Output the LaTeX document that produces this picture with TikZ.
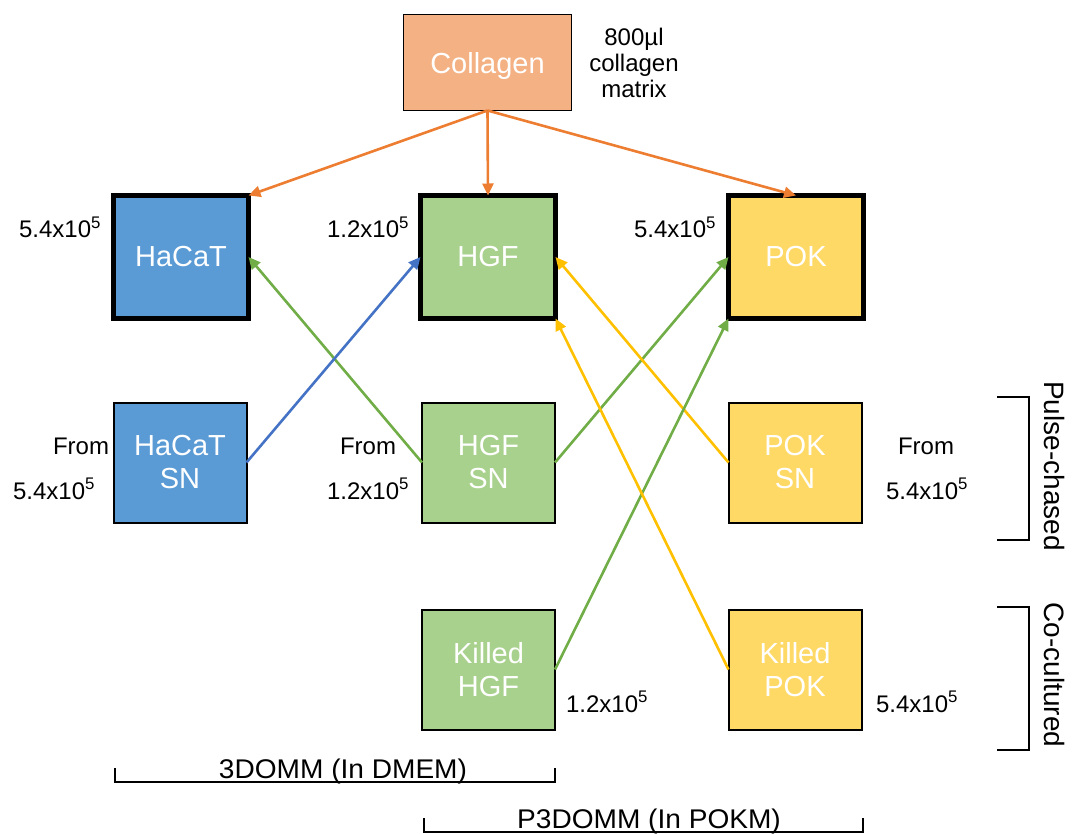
\documentclass[tikz,border=0pt]{standalone}
\usepackage{fontspec}
\setmainfont{Liberation Sans}
\usetikzlibrary{arrows.meta}
\definecolor{cOrangeFill}{HTML}{F4B183}
\definecolor{cBlue}{HTML}{5B9BD5}
\definecolor{cGreen}{HTML}{A9D18E}
\definecolor{cYellow}{HTML}{FFD966}
\definecolor{aOrange}{HTML}{ED7D31}
\definecolor{aBlue}{HTML}{4472C4}
\definecolor{aGreen}{HTML}{70AD47}
\definecolor{aYellow}{HTML}{FFC000}
\begin{document}
\begin{tikzpicture}[x=1pt,y=-1pt,
  box/.style={draw=black, line width=2pt, minimum width=133pt, minimum height=120pt,
    inner sep=0pt, outer sep=0pt, text=white, align=center,
    font=\fontsize{29}{33}\selectfont},
  thickbox/.style={box, line width=5pt, minimum width=135pt, minimum height=123pt},
  lab/.style={font=\fontsize{24}{26}\selectfont, inner sep=0pt, anchor=base},
  side/.style={font=\fontsize{28}{30}\selectfont, inner sep=0pt, rotate=-90},
  bottomlab/.style={font=\fontsize{27}{30}\selectfont, inner sep=0pt, anchor=base},
  conn/.style={line width=2.6pt, -{Triangle[length=12pt,width=11pt]}},
  bracket/.style={line width=1.5pt, black},
]
\useasboundingbox (0,0) rectangle (1074,834);

% boxes
\node[box, fill=cOrangeFill, line width=1.5pt, minimum width=168pt, minimum height=96pt, text depth=0pt] (col) at (487.5,62.5) {Collagen};
\node[thickbox, fill=cBlue] (hacat) at (181,257) {HaCaT};
\node[thickbox, fill=cGreen] (hgf) at (488,257) {HGF};
\node[thickbox, fill=cYellow] (pok) at (796,257) {POK};
\node[box, fill=cBlue] (hacatsn) at (180,462.5) {HaCaT\\SN};
\node[box, fill=cGreen] (hgfsn) at (488.5,462.5) {HGF\\SN};
\node[box, fill=cYellow] (poksn) at (795,462.5) {POK\\SN};
\node[box, fill=cGreen] (khgf) at (488.5,669.5) {Killed\\HGF};
\node[box, fill=cYellow] (kpok) at (795,669.5) {Killed\\POK};

% labels
\node[lab] (vol) at (634,46) {800µl};
\node[lab] (vol2) at (634,72) {collagen};
\node[lab] (vol3) at (634,98) {matrix};
\node[lab] (n1) at (60,238) {5.4x10\textsuperscript{5}};
\node[lab] (n2) at (368,238) {1.2x10\textsuperscript{5}};
\node[lab] (n3) at (675,238) {5.4x10\textsuperscript{5}};
\node[lab] (f1) at (81,454) {From};
\node[lab] (f1n) at (54,499) {5.4x10\textsuperscript{5}};
\node[lab] (f2) at (368,454) {From};
\node[lab] (f2n) at (368,499) {1.2x10\textsuperscript{5}};
\node[lab] (f3) at (926,454) {From};
\node[lab] (f3n) at (927,499) {5.4x10\textsuperscript{5}};
\node[lab] (k1) at (607,712) {1.2x10\textsuperscript{5}};
\node[lab] (k2) at (917,712) {5.4x10\textsuperscript{5}};

% arrows
\draw[conn, aOrange] (col.south) -- (hacat.north east);
\draw[conn, aOrange] (col.south) -- (hgf.north);
\draw[conn, aOrange] (col.south) -- (pok.north);
\draw[conn, aGreen] (hgfsn.west) -- (hacat.east);
\draw[conn, aBlue] (hacatsn.east) -- (hgf.west);
\draw[conn, aGreen] (hgfsn.east) -- (pok.west);
\draw[conn, aYellow] (poksn.west) -- (hgf.east);
\draw[conn, aGreen] (khgf.east) -- (pok.south west);
\draw[conn, aYellow] (kpok.west) -- (hgf.south east);

% right brackets
\draw[bracket] (997,397) -- (1029,397) -- (1029,540) -- (997,540);
\node[side] (pc) at (1054,466) {Pulse-chased};
\draw[bracket] (997,607) -- (1029,607) -- (1029,750) -- (997,750);
\node[side] (cc) at (1054,675) {Co-cultured};

% bottom brackets
\draw[bracket] (115,768) -- (115,782) -- (555,782) -- (555,768);
\node[bottomlab] (b1) at (343,778) {\scalebox{1.04}[1]{3DOMM (In DMEM)}};
\draw[bracket] (424,818) -- (424,832) -- (863,832) -- (863,818);
\node[bottomlab] (b2) at (649,828) {\scalebox{1.04}[1]{P3DOMM (In POKM)}};
\end{tikzpicture}
\end{document}
